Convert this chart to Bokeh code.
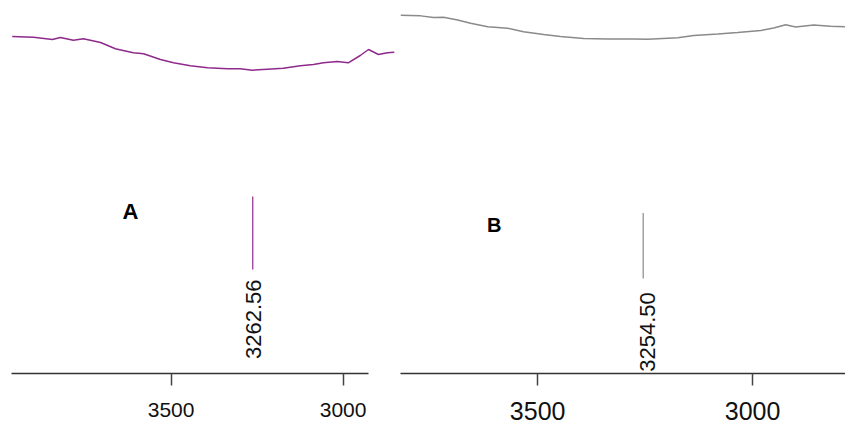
import math
from bokeh.plotting import figure
from bokeh.layouts import row
from bokeh.models import Range1d, FixedTicker, ColumnDataSource
from bokeh.core.properties import value
from bokeh.embed import file_html
from bokeh.resources import INLINE

# ---------------- data ----------------
# Panel A spectrum (wavenumber, cm-1 ; relative intensity)
a_wavenumber = [3962, 3900, 3845, 3822, 3784, 3755, 3705, 3662, 3610, 3580,
                3531, 3493, 3444, 3394, 3336, 3299, 3264, 3220, 3174, 3124,
                3086, 3057, 3017, 2985, 2950, 2926, 2897, 2871, 2851]
a_intensity = [337.0, 336.3, 334.0, 336.0, 333.3, 334.7, 331.0, 324.7, 320.7, 319.7,
               314.0, 310.7, 307.7, 305.7, 304.7, 304.7, 303.3, 304.3, 305.3, 307.7,
               309.0, 310.7, 312.0, 310.7, 318.0, 324.0, 319.0, 320.7, 321.3]
a_peak = [3262.56]
a_peak_label = ["3262.56"]
a_peak_bottom = [104]
a_peak_top = [177]

# Panel B spectrum
b_wavenumber = [3819, 3772, 3742, 3719, 3686, 3656, 3616, 3570, 3533, 3486,
                3447, 3393, 3337, 3277, 3244, 3174, 3137, 3081, 3035, 2981,
                2951, 2923, 2900, 2858, 2819, 2784]
b_intensity = [366.0, 365.3, 363.7, 364.0, 361.0, 357.7, 354.3, 352.7, 349.0, 346.3,
               344.3, 342.3, 341.7, 341.7, 341.3, 343.0, 345.3, 346.7, 348.3, 350.3,
               353.0, 356.3, 354.0, 356.0, 354.7, 354.3]
b_peak = [3254.50]
b_peak_label = ["3254.50"]
b_peak_bottom = [97]
b_peak_top = [164]

tick_values = [3000, 3500]

FONT = "Liberation Sans"


def make_panel(width, x_start, x_end, y_top, bottom_border, wn, inten, color,
               peak, peak_label, pk_bot, pk_top, label_top, letter, letter_x, letter_y,
               letter_size, tick_size, label_size, standoff, label_xoff, bounds=None):
    p = figure(width=width, height=424, output_backend="svg", toolbar_location=None,
               x_range=Range1d(x_start, x_end), y_range=Range1d(0, y_top),
               y_axis_location=None, min_border_left=0, min_border_right=0,
               min_border_top=0, min_border_bottom=bottom_border)
    p.outline_line_color = None
    p.grid.visible = False
    p.background_fill_color = "white"
    p.border_fill_color = "white"

    p.line(wn, inten, line_color=color, line_width=1.5)
    p.segment(x0=peak, y0=pk_bot, x1=peak, y1=pk_top, line_color=color, line_width=1.2)
    src = ColumnDataSource(dict(x=peak, y=[label_top] * len(peak), t=peak_label))
    p.text(x="x", y="y", text="t", source=src, angle=math.pi / 2,
           text_align="right", text_baseline="middle", x_offset=label_xoff,
           text_font=value(FONT), text_font_size=label_size, text_color="#111111")
    p.text(x=[letter_x], y=[letter_y], text=[letter], text_align="center",
           text_baseline="middle", text_font=value(FONT), text_font_style="bold",
           text_font_size=letter_size, text_color="#000000")

    ax = p.xaxis[0]
    ax.ticker = FixedTicker(ticks=tick_values)
    ax.minor_tick_line_color = None
    ax.major_tick_in = 0
    ax.major_tick_out = 12
    ax.major_tick_line_color = "#444444"
    ax.major_tick_line_width = 1.5
    ax.axis_line_color = "#333333"
    ax.axis_line_width = 1.5
    ax.major_label_text_font = FONT
    ax.major_label_text_font_size = tick_size
    ax.major_label_text_color = "#111111"
    ax.major_label_standoff = standoff
    if bounds is not None:
        ax.bounds = bounds
    return p


pa = make_panel(400, 3996, 2833, 373, 51, a_wavenumber, a_intensity, "#8e2a8c",
                a_peak, a_peak_label, a_peak_bottom, a_peak_top, 94,
                "A", 3618, 162, "22px", "21px", "22px", 17, 1, bounds=(2926, 3964))
pb = make_panel(445, 3819, 2784, 381, 43, b_wavenumber, b_intensity, "#8a8a8a",
                b_peak, b_peak_label, b_peak_bottom, b_peak_top, 83,
                "B", 3601, 151.5, "20px", "25px", "22px", 16, 4)

layout = row(pa, pb, spacing=0)
open("out.html", "w").write(file_html(layout, INLINE))
